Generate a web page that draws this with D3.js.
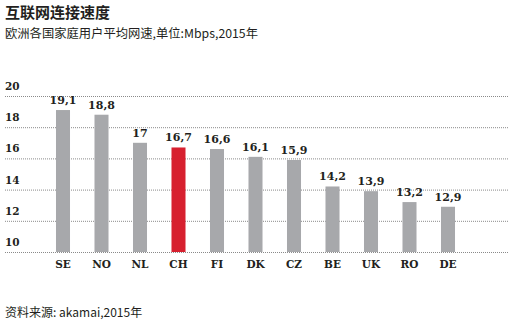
<!DOCTYPE html>
<html>
<head>
<meta charset="utf-8">
<script src="https://cdn.jsdelivr.net/npm/d3@7/dist/d3.min.js"></script>
<style>
  html, body { margin: 0; padding: 0; background: #fff; }
  svg { display: block; }
</style>
</head>
<body>
<svg id="chart" width="512" height="324"></svg>
<script>
// Average household internet speed in Europe, Mbps, 2015
const countries = ["SE", "NO", "NL", "CH", "FI", "DK", "CZ", "BE", "UK", "RO", "DE"];
const speeds = [19.1, 18.8, 17, 16.7, 16.6, 16.1, 15.9, 14.2, 13.9, 13.2, 12.9];
const highlight = "CH";
const yTicks = [10, 12, 14, 16, 18, 20];
const titleText = "互联网连接速度";
const subtitleText = "欧洲各国家庭用户平均网速,单位:Mbps,2015年";
const sourceText = "资料来源: akamai,2015年";

const svg = d3.select("#chart");
const serif = "'DejaVu Serif', 'Liberation Serif', serif";
const sans = "'Noto Sans CJK SC', 'Noto Sans', sans-serif";
const ink = "#231f20";

const x = d3.scaleBand().domain(countries).range([43.75, 467.25])
  .paddingInner(0.636).paddingOuter(0.318);
const y = d3.scaleLinear().domain([10, 20]).range([252, 96]);

// Title block
svg.append("text").attr("x", 5).attr("y", 18)
  .attr("font-family", sans).attr("font-weight", 700).attr("font-size", 15)
  .attr("fill", ink).text(titleText);
svg.append("text").attr("x", 5).attr("y", 38)
  .attr("font-family", sans).attr("font-size", 12.3)
  .attr("fill", ink).text(subtitleText);

// Gridlines with labels sitting above each line
const grid = svg.append("g");
yTicks.forEach(t => {
  grid.append("line")
    .attr("x1", 5).attr("x2", 508)
    .attr("y1", y(t) + 0.5).attr("y2", y(t) + 0.5)
    .attr("stroke", "#8a8a8a").attr("stroke-width", 1)
    .attr("stroke-dasharray", "1,1");
  grid.append("text")
    .attr("x", 5).attr("y", y(t) - 6)
    .attr("font-family", serif).attr("font-weight", 700).attr("font-size", 10.5)
    .attr("fill", ink).text(t);
});

// Bars
svg.append("g").selectAll("rect")
  .data(countries)
  .join("rect")
  .attr("x", (d) => x(d))
  .attr("width", x.bandwidth())
  .attr("y", (d, i) => y(speeds[i]))
  .attr("height", (d, i) => y(10) - y(speeds[i]))
  .attr("fill", d => d === highlight ? "#d7202f" : "#a7a8ab");

// Value labels
svg.append("g").selectAll("text")
  .data(countries)
  .join("text")
  .attr("x", d => x(d) + x.bandwidth() / 2)
  .attr("y", (d, i) => y(speeds[i]) - 6)
  .attr("text-anchor", "middle")
  .attr("font-family", serif).attr("font-weight", 700).attr("font-size", 11)
  .attr("fill", ink)
  .text((d, i) => String(speeds[i]).replace(".", ","));

// Category axis labels
svg.append("g").selectAll("text")
  .data(countries)
  .join("text")
  .attr("x", d => x(d) + x.bandwidth() / 2)
  .attr("y", 268)
  .attr("text-anchor", "middle")
  .attr("font-family", serif).attr("font-weight", 700).attr("font-size", 10.5)
  .attr("fill", ink)
  .text(d => d);

// Source note
svg.append("text").attr("x", 5).attr("y", 317)
  .attr("font-family", sans).attr("font-size", 12)
  .attr("fill", ink).text(sourceText);
</script>
</body>
</html>
